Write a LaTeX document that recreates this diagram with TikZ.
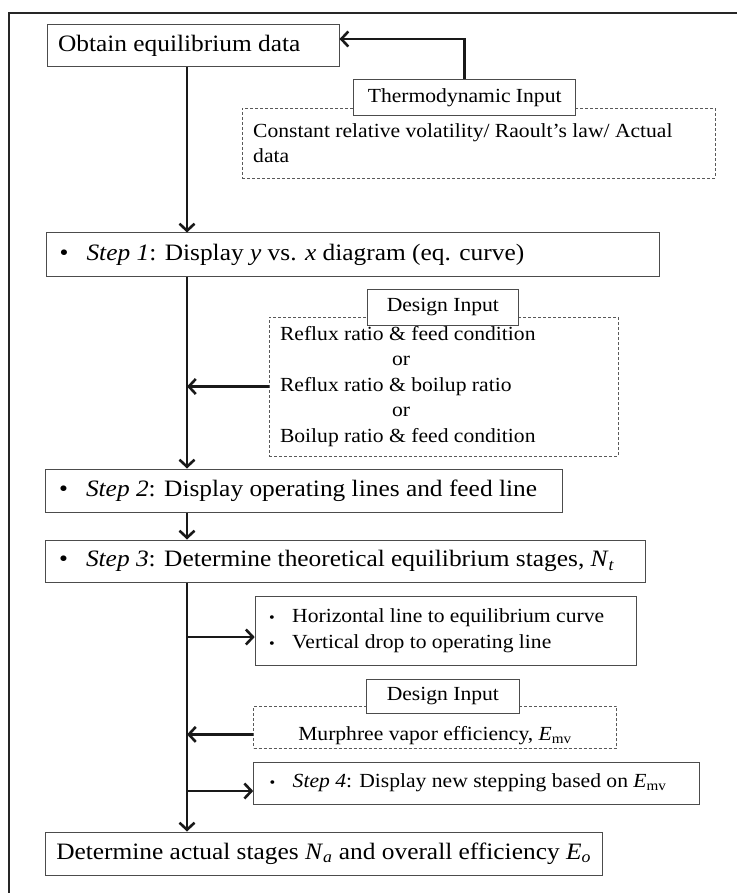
\documentclass[tikz,border=0pt]{standalone}
\usepackage{fontspec}
\setmainfont{Liberation Serif}[FakeStretch=1.08]
\usetikzlibrary{arrows.meta}
\newcommand\bigf{\fontsize{23.5}{27}\selectfont}
\newcommand\smf{\fontsize{20}{25.5}\selectfont}
\newcommand\lb[2]{\makebox[#1][l]{#2}}
\newcommand\bbul{\makebox[27pt][l]{\textbullet}}
\newcommand\sbul{\makebox[23pt][l]{{\fontsize{15}{15}\selectfont\textbullet}}}
\begin{document}
\begin{tikzpicture}[x=1pt,y=-1pt,
  box/.style={draw=black!70, line width=1pt, inner ysep=0pt, fill=white},
  dbox/.style={draw=black!65, line width=0.8pt, dash pattern=on 3pt off 2pt, inner ysep=0pt},
  lab/.style={draw=black!70, line width=1pt, inner sep=0pt, fill=white, font=\smf},
  conn/.style={line width=2.6pt, black!90, -{Straight Barb[length=7pt,width=15pt]}}]
\useasboundingbox (0,0) rectangle (736,893);
\fill[white] (0,0) rectangle (736,893);
\draw[line width=2.2pt, black!85] (9,900) -- (9,13) -- (745,13);
\coordinate (spine) at (187,0);

% top
\node[box, font=\bigf, inner xsep=11pt, minimum height=42pt] (b0) at (193,46) {\lb{270pt}{Obtain equilibrium data}};
\node[dbox, font=\smf, inner xsep=11pt, minimum height=70pt, align=left] (td) at (478.7,143)
  {\lb{451pt}{Constant relative volatility/ Raoult’s law/ Actual}\\\lb{451pt}{data}};
\node[lab, minimum width=222.5pt, minimum height=36pt] (tin) at (464.7,98) {Thermodynamic Input};

% step 1
\node[box, font=\bigf, inner xsep=13pt, minimum height=43pt] (s1) at (352.8,254.5)
  {\lb{586.5pt}{\bbul\textit{Step 1}: Display \textit{y} vs. \textit{x} diagram (eq. curve)}};
\node[dbox, font=\smf, inner xsep=11pt, minimum height=139pt, align=left] (dd1) at (443.5,386.5)
  {\lb{327pt}{Reflux ratio \& feed condition}\\
   \lb{327pt}{\hspace*{112pt}or}\\
   \lb{327pt}{Reflux ratio \& boilup ratio}\\
   \lb{327pt}{\hspace*{112pt}or}\\
   \lb{327pt}{Boilup ratio \& feed condition}};
\node[lab, minimum width=150.7pt, minimum height=36pt] (din1) at (442.9,307) {Design Input};

% step 2, 3
\node[box, font=\bigf, inner xsep=14pt, minimum height=43pt] (s2) at (303.5,490.5)
  {\lb{489pt}{\bbul\textit{Step 2}: Display operating lines and feed line}};
\node[box, font=\bigf, inner xsep=14pt, minimum height=42pt] (s3) at (345,561)
  {\lb{572pt}{\bbul\textit{Step 3}: Determine theoretical equilibrium stages, \textit{N}\textsubscript{\textit{t}}}};
\node[box, font=\smf, inner xsep=14pt, minimum height=69pt, align=left] (hb) at (445.7,630.5)
  {\lb{353pt}{\sbul Horizontal line to equilibrium curve}\\
   \lb{353pt}{\sbul Vertical drop to operating line}};

% efficiency
\node[dbox, font=\smf, inner xsep=0pt, minimum width=363pt, text height=34pt, text depth=8pt, anchor=north] (dd2) at (435,706)
  {Murphree vapor efficiency, \textit{E}\textsubscript{mv}};
\node[lab, minimum width=153.5pt, minimum height=34pt] (din2) at (442.9,696) {Design Input};
\node[box, font=\smf, inner xsep=16pt, minimum height=42pt] (s4) at (476.7,783)
  {\lb{414pt}{\sbul\textit{Step 4}: Display new stepping based on \textit{E}\textsubscript{mv}}};
\node[box, font=\bigf, inner xsep=11pt, minimum height=43pt] (fin) at (323.8,853.5)
  {\lb{535pt}{Determine actual stages \textit{N}\textsubscript{\textit{a}} and overall efficiency \textit{E}\textsubscript{\textit{o}}}};

% connectors
\coordinate (b0in) at ([yshift=7pt]b0.east);
\coordinate (hbin) at ([yshift=-6.5pt]hb.west);
\coordinate (dd2out) at ([yshift=-7pt]dd2.west);
\coordinate (s4in) at ([yshift=-8pt]s4.west);
\draw[conn] (tin.north) -- (tin.north |- b0in) -- (b0in);
\draw[conn] (b0.south -| spine) -- (s1.north -| spine);
\draw[conn] (s1.south -| spine) -- (s2.north -| spine);
\draw[conn] (s2.south -| spine) -- (s3.north -| spine);
\draw[conn] (s3.south -| spine) -- (fin.north -| spine);
\draw[conn] (dd1.west) -- (dd1.west -| spine);
\draw[conn] (hbin -| spine) -- (hbin);
\draw[conn] (dd2out) -- (dd2out -| spine);
\draw[conn] (s4in -| spine) -- (s4in);
\end{tikzpicture}
\end{document}
